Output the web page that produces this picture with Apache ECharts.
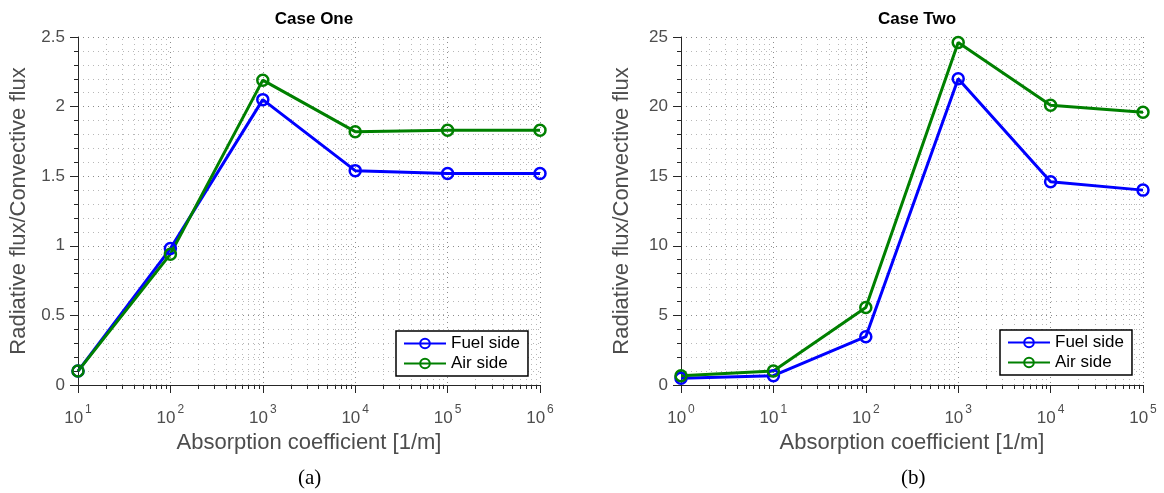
<!DOCTYPE html>
<html>
<head>
<meta charset="utf-8">
<script src="https://cdn.jsdelivr.net/npm/echarts@6/dist/echarts.min.js"></script>
<style>
  html, body { margin: 0; padding: 0; background: #fff; }
  #chart { width: 1164px; height: 493px; }
</style>
</head>
<body>
<div id="chart"></div>
<script>
// Case One: absorption coefficient sweep 10^1 .. 10^6
const kappaOne = [10, 100, 1000, 10000, 100000, 1000000];
const fuelOne = [0.10, 0.98, 2.05, 1.54, 1.52, 1.52];
const airOne = [0.10, 0.94, 2.19, 1.82, 1.83, 1.83];

// Case Two: absorption coefficient sweep 10^0 .. 10^5
const kappaTwo = [1, 10, 100, 1000, 10000, 100000];
const fuelTwo = [0.48, 0.67, 3.47, 22.0, 14.6, 14.0];
const airTwo = [0.67, 1.0, 5.57, 24.6, 20.1, 19.6];

const seriesNames = ['Fuel side', 'Air side'];
const seriesColors = ['#0000ff', '#008000'];
const titles = ['Case One', 'Case Two'];
const captions = ['(a)', '(b)'];
const xTitle = 'Absorption coefficient [1/m]';
const yTitle = 'Radiative flux/Convective flux';

const FONT = 'Liberation Sans, Arial, Helvetica, sans-serif';
const AXIS_COLOR = '#262626';
const TEXT_COLOR = '#4d4d4d';
const MAJOR_GRID = '#8c8c8c';
const MINOR_GRID = '#b8b8b8';
const GRID_DASH = [1, 4];

const panels = [
  { xs: kappaOne, fuel: fuelOne, air: airOne, yMax: 2.5, yStep: 0.5,
    grid: { left: 78, right: 624, top: 37, bottom: 108 } },
  { xs: kappaTwo, fuel: fuelTwo, air: airTwo, yMax: 25, yStep: 5,
    grid: { left: 681, right: 21, top: 37, bottom: 108 } }
];

// minor positions 2..9 within each decade of a log range
function minorDecadeTicks(lo, hi) {
  const out = [];
  for (let d = lo; d < hi; d *= 10) {
    for (let k = 2; k <= 9; k++) out.push([k * d, 0]);
  }
  return out;
}

function superLabel(v) {
  const e = Math.round(Math.log10(v));
  return '{b|10}{s|' + e + '}';
}

const majorDotted = { color: MAJOR_GRID, width: 1, type: GRID_DASH };
const minorDotted = { color: MINOR_GRID, width: 1, type: GRID_DASH };

const option = {
  backgroundColor: '#fff',
  animation: false,
  title: panels.map((p, i) => ({
    text: titles[i],
    left: (p.grid.left + (1164 - p.grid.right)) / 2,
    textAlign: 'center',
    top: 6,
    textStyle: { fontFamily: FONT, fontSize: 17, fontWeight: 'bold', color: '#000' }
  })),
  grid: panels.map(p => p.grid),
  legend: panels.map((p, i) => ({
    data: seriesNames,
    orient: 'vertical',
    left: i === 0 ? 396 : 1000,
    top: i === 0 ? 331 : 330,
    backgroundColor: '#fff',
    borderColor: '#000',
    borderWidth: 1.5,
    borderRadius: 0,
    padding: [4, 8, 4, 7],
    itemGap: 3,
    itemWidth: 42,
    itemHeight: 12,
    selectedMode: false,
    textStyle: { fontFamily: FONT, fontSize: 17, color: '#000' }
  })),
  xAxis: panels.map((p, i) => ({
    type: 'log',
    gridIndex: i,
    logBase: 10,
    min: p.xs[0],
    max: p.xs[p.xs.length - 1],
    name: xTitle,
    nameLocation: 'middle',
    nameGap: 38,
    nameTextStyle: { fontFamily: FONT, fontSize: 22, color: TEXT_COLOR },
    axisLine: { show: true, onZero: false, lineStyle: { color: AXIS_COLOR, width: 1 } },
    axisTick: { show: true, inside: false, length: 8, lineStyle: { color: AXIS_COLOR } },
    axisLabel: {
      margin: 17,
      formatter: superLabel,
      rich: {
        b: { fontFamily: FONT, fontSize: 17, color: TEXT_COLOR, padding: [8, 0, 0, 0] },
        s: { fontFamily: FONT, fontSize: 12, color: TEXT_COLOR, padding: [0, 0, 9, 2] }
      }
    },
    splitLine: { show: true, lineStyle: majorDotted }
  })),
  yAxis: panels.map((p, i) => ({
    type: 'value',
    gridIndex: i,
    min: 0,
    max: p.yMax,
    interval: p.yStep,
    name: yTitle,
    nameLocation: 'middle',
    nameGap: 48,
    nameTextStyle: { fontFamily: FONT, fontSize: 22, color: TEXT_COLOR },
    axisLine: { show: true, lineStyle: { color: AXIS_COLOR, width: 1 } },
    axisTick: { show: true, inside: false, length: 8, lineStyle: { color: AXIS_COLOR } },
    minorTick: { show: true, splitNumber: 5, length: 4, lineStyle: { color: AXIS_COLOR } },
    axisLabel: { margin: 13, fontFamily: FONT, fontSize: 17, color: TEXT_COLOR },
    splitLine: { show: true, lineStyle: majorDotted },
    minorSplitLine: { show: true, lineStyle: minorDotted }
  })),
  series: [],
  graphic: panels.map((p, i) => ({
    type: 'text',
    left: (p.grid.left + (1164 - p.grid.right)) / 2 - 11,
    top: 468,
    style: { text: captions[i], font: '21px "Liberation Serif", "DejaVu Serif", serif', fill: '#000' }
  }))
};

panels.forEach((p, i) => {
  // dotted minor grid lines and outward minor ticks on the log axis
  option.series.push({
    type: 'custom',
    xAxisIndex: i,
    yAxisIndex: i,
    silent: true,
    clip: false,
    z: 1,
    data: minorDecadeTicks(p.xs[0], p.xs[p.xs.length - 1]),
    encode: { x: 0, y: 1 },
    renderItem: (params, api) => {
      const x = api.value(0);
      const bot = api.coord([x, 0]);
      const top = api.coord([x, p.yMax]);
      const px = Math.round(bot[0]) + 0.5;
      return {
        type: 'group',
        children: [
          { type: 'line', shape: { x1: px, y1: bot[1], x2: px, y2: top[1] },
            style: { stroke: MINOR_GRID, lineWidth: 1, lineDash: GRID_DASH } },
          { type: 'line', shape: { x1: px, y1: bot[1], x2: px, y2: bot[1] + 4 },
            style: { stroke: AXIS_COLOR, lineWidth: 1 } }
        ]
      };
    }
  });
  [p.fuel, p.air].forEach((vals, j) => {
    option.series.push({
      name: seriesNames[j],
      type: 'line',
      xAxisIndex: i,
      yAxisIndex: i,
      data: p.xs.map((x, k) => [x, vals[k]]),
      symbol: 'circle',
      symbolSize: 11,
      z: 5,
      lineStyle: { color: seriesColors[j], width: 3 },
      itemStyle: { color: 'rgba(255,255,255,0)', borderColor: seriesColors[j], borderWidth: 2.5 }
    });
  });
});

const chart = echarts.init(document.getElementById('chart'), null, { renderer: 'canvas' });
chart.setOption(option);
</script>
</body>
</html>
